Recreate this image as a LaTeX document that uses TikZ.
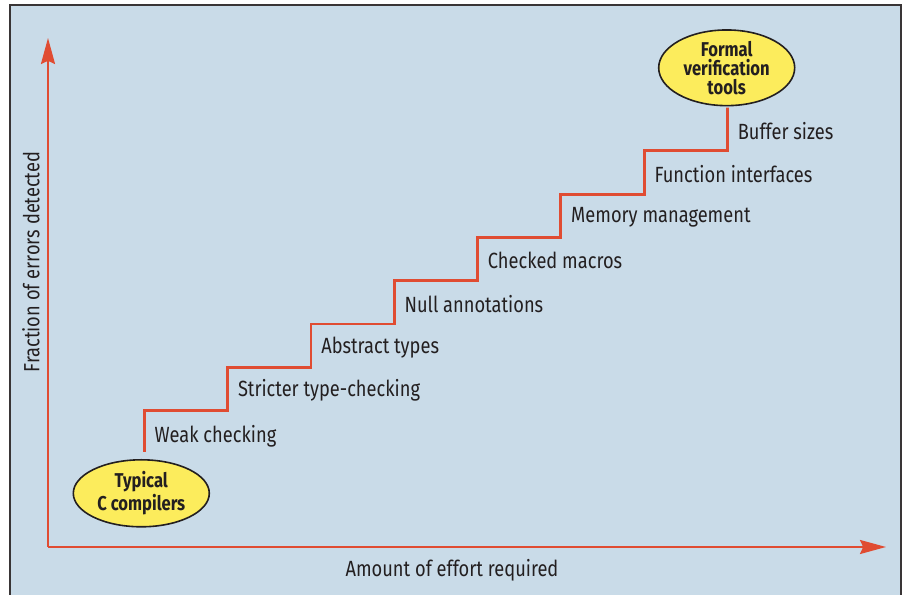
\documentclass[tikz,border=0pt]{standalone}
\usepackage{fontspec}
\setmainfont{Fira Sans}[FakeStretch=0.83]
\usepackage{tikz}
\usetikzlibrary{arrows.meta}
\usetikzlibrary{positioning,shapes.geometric}
\definecolor{panelblue}{RGB}{201,219,232}
\definecolor{stairred}{RGB}{224,76,50}
\definecolor{bubble}{RGB}{252,236,92}
\definecolor{inkgray}{RGB}{35,31,32}
\tikzset{
    axis/.style={
        draw=stairred,
        line width=1pt,
        -{Stealth[length=13pt, width=7pt, inset=1.6pt]}
    },
    stair/.style={
        draw=stairred,
        line width=1.4pt
    }
}

\begin{document}
\begin{tikzpicture}[x=0.5pt, y=0.5pt]
  \tikzset{
    bubblenode/.style={
      draw=inkgray,
      ellipse,
      fill=bubble,
      minimum width=68pt,
      minimum height=33.5pt,
      inner sep=0pt,
      line width=0.8pt,
      align=center,
      text=inkgray,
      font=\fontsize{10}{9.5}\selectfont\bfseries
    },
    steplabel/.style={
      anchor=west,
      text=inkgray,
      inner sep=0pt,
      font=\fontsize{11}{13}\selectfont
    }
  }

  \useasboundingbox (0,0) rectangle (902,595);
  \fill[white] (0,0) rectangle (902,595);
  \filldraw[fill=panelblue, draw=inkgray!90, line width=0.6pt] (10,-10) rectangle (901,590);

  \coordinate (origin) at (48,48);
  \coordinate (ytip) at (48,557);
  \coordinate (xtip) at (886,48);
  \draw[axis] (origin) -- (ytip);
  \draw[axis] (origin) -- (xtip);

  \node[steplabel, anchor=center] (xlabel) at (452,25) {Amount of effort required};
  \node[steplabel, anchor=center, rotate=90] (ylabel) at (31,333) {Fraction of errors detected};

  \node[bubblenode] (typ) at (141.3,101.7) {Typical\\C compilers};
  \node[bubblenode] (fvt) at (726.7,527.2) {Formal\\verification\\tools};

  \foreach \i in {0,...,7} {
    \coordinate (s\i) at ({144.3+83.3*\i},{184.3+43.3*\i});
  }

  \draw[stair] ([yshift=3.5pt]typ.north -| s0) -- (s0)
    -| (s1) -| (s2) -| (s3) -| (s4) -| (s5) -| (s6) -| (s7)
    -- ([yshift=-3pt]fvt.south -| s7);

  \node[steplabel] (lab0) at ([xshift=5pt, yshift=-13pt]s0) {Weak checking};
  \foreach \i/\txt in {1/Stricter type-checking, 2/Abstract types,
                       3/Null annotations, 4/Checked macros, 5/Memory management,
                       6/Function interfaces, 7/Buffer sizes} {
    \node[steplabel] (lab\i) at ([xshift=5pt, yshift=-11.5pt]s\i) {\txt};
  }
\end{tikzpicture}
\end{document}
